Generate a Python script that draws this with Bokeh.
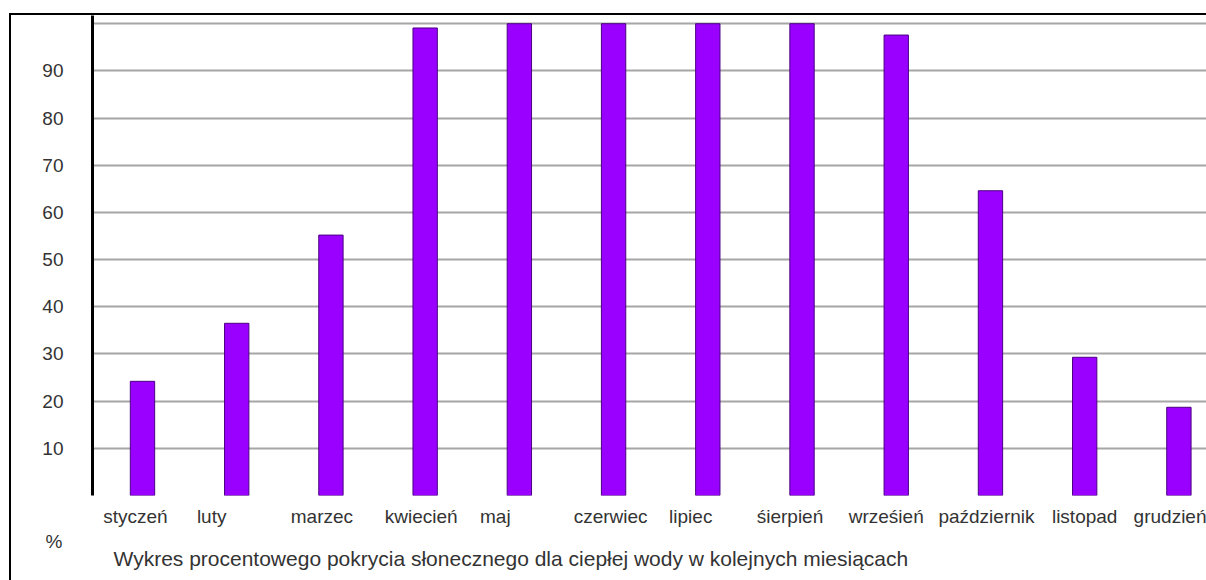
from bokeh.plotting import figure
from bokeh.models import (Range1d, FixedTicker, LinearAxis, Title)
from bokeh.embed import file_html
from bokeh.resources import INLINE

# ---- data ----
months = ["styczeń", "luty", "marzec", "kwiecień", "maj", "czerwiec", "lipiec",
          "śierpień", "wrześień", "październik", "listopad", "grudzień"]
coverage = [24.2, 36.5, 55.2, 99.1, 100, 100, 100, 100, 97.6, 64.6, 29.3, 18.7]
y_ticks = [10, 20, 30, 40, 50, 60, 70, 80, 90]
grid_values = [0, 10, 20, 30, 40, 50, 60, 70, 80, 90, 100]
title_text = "Wykres procentowego pokrycia słonecznego dla ciepłej wody w kolejnych miesiącach"
unit_text = "%"

# label centre offsets (px, relative to bar centre)
label_px_offsets = [-7, -25, -9, -4, -24, -3, -17, -12, -10, -4, 0, -4]

FONT = "Liberation Sans"
OX, OY = 11, 15            # canvas origin on the page (after the drawn border)
BW = 2                     # border width (border-box sizing)
CW, CH = 1206 - OX, 580 - OY   # canvas size
LEFT, TOP, BOTTOM = 92 - OX, 0, 87
PX_PER_CAT = 94.05
PX_PER_UNIT = 4.698

idx = list(range(len(months)))
frame_w = CW - LEFT
frame_h = CH - TOP - BOTTOM
x0 = (LEFT - (141.9 - OX)) / PX_PER_CAT
x_range = Range1d(x0, x0 + frame_w / PX_PER_CAT)
y_range = Range1d(0, frame_h / PX_PER_UNIT)

p = figure(width=CW + BW, height=CH + BW, x_range=x_range, y_range=y_range,
           output_backend="svg", toolbar_location=None,
           min_border_left=LEFT, min_border_right=0, min_border_top=TOP,
           min_border_bottom=BOTTOM, x_axis_location=None, y_axis_location=None,
           margin=(OY - BW, 0, 0, OX - BW),
           styles={"border-left": "2px solid black", "border-top": "2px solid black"})
p.outline_line_color = None
p.background_fill_color = "white"
p.border_fill_color = "white"

# grid
p.xgrid.visible = False
p.ygrid.ticker = FixedTicker(ticks=grid_values)
p.ygrid.grid_line_color = "#a6a6a6"
p.ygrid.grid_line_width = 2

# bars
p.vbar(x=idx, top=coverage, width=24.3 / PX_PER_CAT, bottom=0,
       fill_color="#9900ff", line_color="#4b0082", line_width=1)

# y axis
ya = LinearAxis(ticker=FixedTicker(ticks=y_ticks))
ya.axis_line_width = 3
ya.axis_line_color = "black"
ya.major_tick_line_color = None
ya.minor_tick_line_color = None
ya.major_label_standoff = 23
ya.major_label_text_font = FONT
ya.major_label_text_font_size = "19px"
ya.major_label_text_color = "#333333"
p.add_layout(ya, "left")

# x axis (month labels)
tick_pos = [i + off / PX_PER_CAT for i, off in zip(idx, label_px_offsets)]
xa = LinearAxis(ticker=FixedTicker(ticks=tick_pos))
xa.major_label_overrides = {t: m for t, m in zip(tick_pos, months)}
xa.axis_line_color = None
xa.major_tick_line_color = None
xa.minor_tick_line_color = None
xa.major_label_standoff = 4
xa.major_label_text_font = FONT
xa.major_label_text_font_size = "19px"
xa.major_label_text_color = "#333333"
p.add_layout(xa, "below")

# "%" and caption below the axis
t_unit = Title(text=unit_text, align="left", offset=45 - 92,
               text_font=FONT, text_font_size="19px", text_font_style="normal",
               text_color="#333333", standoff=-1)
p.add_layout(t_unit, "below")
t_cap = Title(text=title_text, align="left", offset=113 - 92,
              text_font=FONT, text_font_size="21px", text_font_style="normal",
              text_color="#333333", standoff=-14)
p.add_layout(t_cap, "below")

open("out.html", "w").write(file_html(p, INLINE))
